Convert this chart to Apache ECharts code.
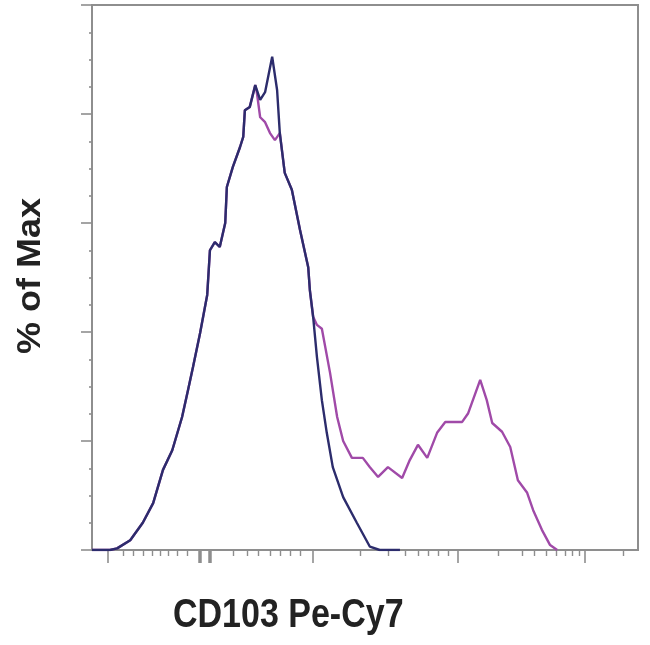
<!DOCTYPE html>
<html>
<head>
<meta charset="utf-8">
<script src="https://cdn.jsdelivr.net/npm/echarts@6/dist/echarts.min.js"></script>
<style>
html,body{margin:0;padding:0;background:#fff;}
#chart{width:650px;height:645px;}
</style>
</head>
<body>
<div id="chart"></div>
<script>
// Channel positions (0-1000 display units) and % of Max values
const blueX = [0,33,46,70,93,112,130,147,165,176,185,198,211,216,225,234,244,247,258,271,277,280,289,299,308,317,330,339,344,353,366,381,396,399,405,412,421,430,441,460,485,509,527,564];
const blueY = [0,0,0.3,1.8,5.0,8.6,14.7,18.3,24.4,29.4,33.6,39.8,46.8,55.0,56.5,55.6,60.0,66.6,70.3,73.9,75.8,80.7,81.3,85.3,82.6,84.0,90.5,84.4,76.5,69.2,66.1,58.7,51.9,47.7,42.8,35.4,27.5,21.5,15.2,9.7,5.0,0.6,0,0];

const purpleX = [0,33,46,70,93,112,130,147,165,176,185,198,211,216,225,234,244,247,258,271,277,280,289,299,302,308,317,326,335,344,353,366,381,396,399,405,412,421,436,449,460,476,496,509,524,542,568,582,597,614,632,647,678,689,711,723,733,751,766,780,797,808,824,839,852];
const purpleY = [0,0,0.3,1.8,5.0,8.6,14.7,18.3,24.4,29.4,33.6,39.8,46.8,55.0,56.5,55.6,60.0,66.6,70.3,73.9,75.8,80.7,81.3,85.3,83.9,79.4,78.5,76.5,75.2,76.5,69.2,66.1,58.7,51.9,47.7,42.8,41.3,40.6,32.5,24.4,20.0,16.9,16.9,15.2,13.4,15.2,13.2,16.5,19.3,16.9,21.5,23.5,23.5,25.1,31.2,27.5,23.3,21.7,18.9,12.8,10.5,7.3,3.7,0.9,0];

// X-axis tick positions (display units)
const xMajorTicks = [29,405,670,903];
const xThickTicks = [198,216];
const xMinorTicks = [57,75,93,110,125,139,156,174,258,284,304,326,344,363,381,491,542,573,597,615,634,652,744,788,810,832,850,866,879,892,973];

// Y-axis ticks
const yMin = 0, yMax = 100, yStep = 20;

const xTitle = 'CD103 Pe-Cy7';
const yTitle = '% of Max';

const AXIS_GREY = '#8e8e8e';
const X_MAX = 1000;
const cats = Array.from({length: X_MAX + 1}, (_, i) => String(i));

function tickAxis(list, len, width) {
  const set = new Set(list);
  return {
    type: 'category', data: cats, boundaryGap: false, position: 'bottom',
    axisLine: {show: false},
    axisLabel: {show: false},
    splitLine: {show: false},
    axisTick: {show: true, length: len, inside: false,
      interval: function (idx) { return set.has(idx); },
      lineStyle: {color: AXIS_GREY, width: width}}
  };
}

function pairs(xs, ys) { return xs.map((x, i) => [x, ys[i]]); }

const chart = echarts.init(document.getElementById('chart'), null, {renderer: 'canvas'});
chart.setOption({
  animation: false,
  backgroundColor: '#ffffff',
  grid: {left: 92, right: 12, top: 5, bottom: 95, show: true, borderColor: AXIS_GREY, borderWidth: 2, backgroundColor: 'transparent'},
  xAxis: [
    {type: 'value', min: 0, max: X_MAX, position: 'bottom',
      axisLine: {show: true, lineStyle: {color: AXIS_GREY, width: 2}},
      axisTick: {show: false}, axisLabel: {show: false}, splitLine: {show: false}},
    tickAxis(xMajorTicks, 13, 1.6),
    tickAxis(xMinorTicks, 6, 1.4),
    tickAxis(xThickTicks, 13, 3.5)
  ],
  yAxis: {
    type: 'value', min: yMin, max: yMax, interval: yStep,
    axisLine: {show: true, lineStyle: {color: AXIS_GREY, width: 2}},
    axisTick: {show: true, length: 11, lineStyle: {color: AXIS_GREY, width: 1.6}},
    minorTick: {show: true, splitNumber: 4, length: 3, lineStyle: {color: AXIS_GREY, width: 1.6}},
    axisLabel: {show: false}, splitLine: {show: false}
  },
  series: [
    {type: 'line', name: 'Stained', data: pairs(purpleX, purpleY), showSymbol: false, symbol: 'none',
      lineStyle: {color: '#a04aa8', width: 2.4}, z: 2},
    {type: 'line', name: 'Control', data: pairs(blueX, blueY), showSymbol: false, symbol: 'none',
      lineStyle: {color: '#2c2c6c', width: 2.4}, z: 3}
  ],
  graphic: [
    {type: 'text', x: 31, y: 276, rotation: Math.PI / 2, scaleX: 1.06,
      style: {text: yTitle, font: 'bold 34px "Liberation Sans", Arial, sans-serif', fill: '#222', align: 'center', verticalAlign: 'middle'}},
    {type: 'text', x: 173, y: 616, scaleY: 1.2,
      style: {text: xTitle, font: 'bold 34px "Liberation Sans", Arial, sans-serif', fill: '#222', align: 'left', verticalAlign: 'middle'}}
  ]
});
</script>
</body>
</html>
